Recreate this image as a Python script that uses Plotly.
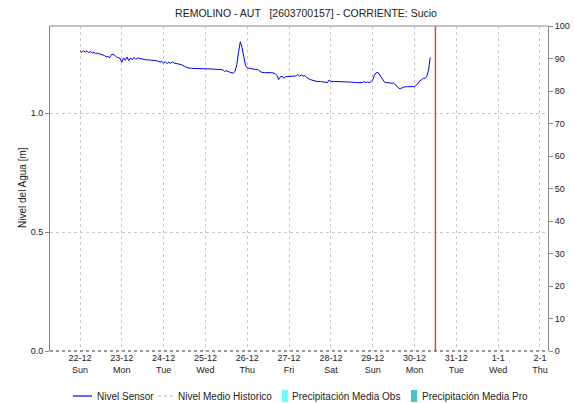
import pandas as pd
import plotly.graph_objects as go

# Sensor readings: hours since 22-12-2024 00:00 and water level [m]
hours = [0, 1, 2, 3, 4, 5, 6, 7, 8, 9, 10, 12, 14, 15, 16, 17, 18, 19, 20, 21, 22, 23,
         24, 25, 26, 27, 28, 29, 30, 31, 32, 33, 34, 36, 38, 40, 42, 44, 46, 47,
         48, 49, 50, 51, 52, 53, 54, 56, 58, 60, 62, 64, 66, 68, 70, 72,
         74, 76, 78, 80, 82, 83, 84, 86, 88, 89, 90, 91, 92, 93, 94, 95, 96,
         98, 100, 102, 104, 106, 108, 110, 112, 113, 114, 115, 116, 117, 118, 120,
         122, 124, 125, 126, 127, 128, 129, 130, 132, 134, 136, 138, 140, 142, 143, 144,
         146, 148, 150, 152, 154, 156, 158, 160, 162, 163, 164, 165, 166, 167,
         168, 169, 170, 171, 172, 173, 174, 175, 176, 178, 180, 182, 183, 184, 185, 186,
         188, 190, 192, 194, 195, 196, 197, 198, 199, 200, 201]
level = [1.262, 1.255, 1.262, 1.256, 1.262, 1.254, 1.260, 1.252, 1.256, 1.250, 1.252, 1.248,
         1.242, 1.237, 1.238, 1.233, 1.246, 1.248, 1.240, 1.236, 1.233, 1.230,
         1.214, 1.232, 1.222, 1.236, 1.220, 1.232, 1.224, 1.234, 1.226, 1.232, 1.230, 1.226,
         1.224, 1.223, 1.222, 1.220, 1.214, 1.218,
         1.210, 1.216, 1.208, 1.214, 1.209, 1.216, 1.210, 1.206, 1.204, 1.196, 1.190, 1.188,
         1.188, 1.187, 1.187, 1.186,
         1.185, 1.185, 1.184, 1.184, 1.182, 1.175, 1.178, 1.172, 1.168, 1.176, 1.205, 1.255,
         1.300, 1.275, 1.228, 1.200, 1.190,
         1.186, 1.184, 1.183, 1.172, 1.170, 1.170, 1.170, 1.166, 1.158, 1.141, 1.152, 1.155,
         1.146, 1.153, 1.155,
         1.155, 1.156, 1.162, 1.155, 1.160, 1.156, 1.158, 1.150, 1.141, 1.136, 1.133, 1.133,
         1.132, 1.128, 1.139, 1.133,
         1.133, 1.133, 1.133, 1.133, 1.133, 1.130, 1.128, 1.128, 1.128, 1.132, 1.128, 1.131,
         1.128, 1.132,
         1.140, 1.160, 1.170, 1.171, 1.160, 1.146, 1.135, 1.128, 1.128, 1.127, 1.125, 1.113,
         1.104, 1.103, 1.107, 1.110,
         1.111, 1.111, 1.111, 1.124, 1.136, 1.140, 1.146, 1.146, 1.153, 1.180, 1.234]

# Day ticks
tick_dates = ["2024-12-22", "2024-12-23", "2024-12-24", "2024-12-25", "2024-12-26",
              "2024-12-27", "2024-12-28", "2024-12-29", "2024-12-30", "2024-12-31",
              "2025-01-01", "2025-01-02"]
tick_labels = ["22-12<br>Sun", "23-12<br>Mon", "24-12<br>Tue", "25-12<br>Wed", "26-12<br>Thu",
               "27-12<br>Fri", "28-12<br>Sat", "29-12<br>Sun", "30-12<br>Mon", "31-12<br>Tue",
               "1-1<br>Wed", "2-1<br>Thu"]

# Daily precipitation (no rain recorded)
precip_obs = [0] * len(tick_dates)
precip_pro = [0] * len(tick_dates)

now_mark = "2024-12-30 12:00"
x_range = ["2024-12-21 06:47", "2025-01-02 04:36"]
y_range = [0, 1.366]

base = pd.Timestamp("2024-12-22 00:00")
times = [base + pd.Timedelta(hours=h) for h in hours]

font = "Liberation Sans, Arial, sans-serif"
text_color = "#222222"

W, H = 575, 403
L, R, T, B = 50, 27, 26, 52
pw, ph = W - L - R, H - T - B


def px(x):
    return (x - L) / pw


def py(y):
    return (H - B - y) / ph


fig = go.Figure()
fig.add_trace(go.Scatter(x=times, y=level, mode="lines", name="Nivel Sensor",
                         line=dict(color="#0000ff", width=1)))
fig.add_trace(go.Bar(x=tick_dates, y=precip_obs, name="Precipitación Media Obs",
                     marker=dict(color="#6affff", line=dict(width=0)), yaxis="y2"))
fig.add_trace(go.Bar(x=tick_dates, y=precip_pro, name="Precipitación Media Pro",
                     marker=dict(color="#44c4c4", line=dict(width=0)), yaxis="y2"))

# current-time marker, dotted baseline and top frame
fig.add_shape(type="line", xref="x", yref="paper", x0=now_mark, x1=now_mark, y0=0, y1=1,
              layer="above", line=dict(color="rgba(235,35,35,0.9)", width=1.4))
fig.add_shape(type="line", xref="paper", yref="paper", x0=0, x1=1, y0=0, y1=0,
              line=dict(color="#333333", width=1, dash="dot"))
fig.add_shape(type="line", xref="paper", yref="paper", x0=0, x1=1, y0=1, y1=1,
              line=dict(color="#888888", width=1))

# legend row
ly = 396
legend_items = [
    ("line", "#0000ff", "solid", 73, 92, 95, "Nivel Sensor"),
    ("line", "#b8b8b8", "3px,3px", 158, 173, 176, "Nivel Medio Historico"),
    ("box", "#6affff", None, 282, 288, 290, "Precipitación Media Obs"),
    ("box", "#44c4c4", None, 411, 417, 420, "Precipitación Media Pro"),
]
for kind, color, dash, x0, x1, tx, label in legend_items:
    if kind == "line":
        fig.add_shape(type="line", xref="paper", yref="paper",
                      x0=px(x0), x1=px(x1), y0=py(ly), y1=py(ly),
                      line=dict(color=color, width=1.2, dash=dash))
    else:
        fig.add_shape(type="rect", xref="paper", yref="paper",
                      x0=px(x0), x1=px(x1), y0=py(ly + 6), y1=py(ly - 6),
                      fillcolor=color, line=dict(width=0))
    fig.add_annotation(xref="paper", yref="paper", x=px(tx), y=py(ly),
                       xanchor="left", yanchor="middle", showarrow=False,
                       text=label, font=dict(size=10, color=text_color))

# vertical axis title
fig.add_annotation(xref="paper", yref="paper", x=px(22), y=py(188),
                   xanchor="center", yanchor="middle", showarrow=False, textangle=-90,
                   text="Nivel del Agua [m]", font=dict(size=10, color=text_color))

fig.update_layout(
    width=W, height=H,
    margin=dict(l=L, r=R, t=T, b=B),
    paper_bgcolor="white", plot_bgcolor="white",
    font=dict(family=font, size=9, color=text_color),
    title=dict(text="REMOLINO - AUT   [2603700157] - CORRIENTE: Sucio",
               x=px(306), xanchor="center", y=1 - 13 / H, yanchor="middle",
               xref="paper", font=dict(size=10.5, color=text_color)),
    showlegend=False,
    bargap=0.5,
    xaxis=dict(range=x_range, tickvals=tick_dates, ticktext=tick_labels,
               showgrid=True, gridcolor="#c8c8c8", griddash="dot", gridwidth=1,
               showline=False, zeroline=False, ticks="", automargin=False,
               tickfont=dict(size=9, color=text_color)),
    yaxis=dict(range=y_range, tickvals=[0, 0.5, 1.0], tickformat=".1f",
               showgrid=True, gridcolor="#c8c8c8", griddash="dot", gridwidth=1,
               showline=True, linecolor="#888888", linewidth=1, automargin=False,
               ticks="outside", ticklen=4, tickcolor="#888888", zeroline=False,
               tickfont=dict(size=9, color=text_color)),
    yaxis2=dict(range=[0, 100], dtick=10, overlaying="y", side="right",
                showgrid=False, showline=True, linecolor="#888888", linewidth=1,
                ticks="outside", ticklen=4, tickcolor="#888888", zeroline=False,
                automargin=False, tickfont=dict(size=9, color=text_color)),
)

fig.write_html("out.html")
